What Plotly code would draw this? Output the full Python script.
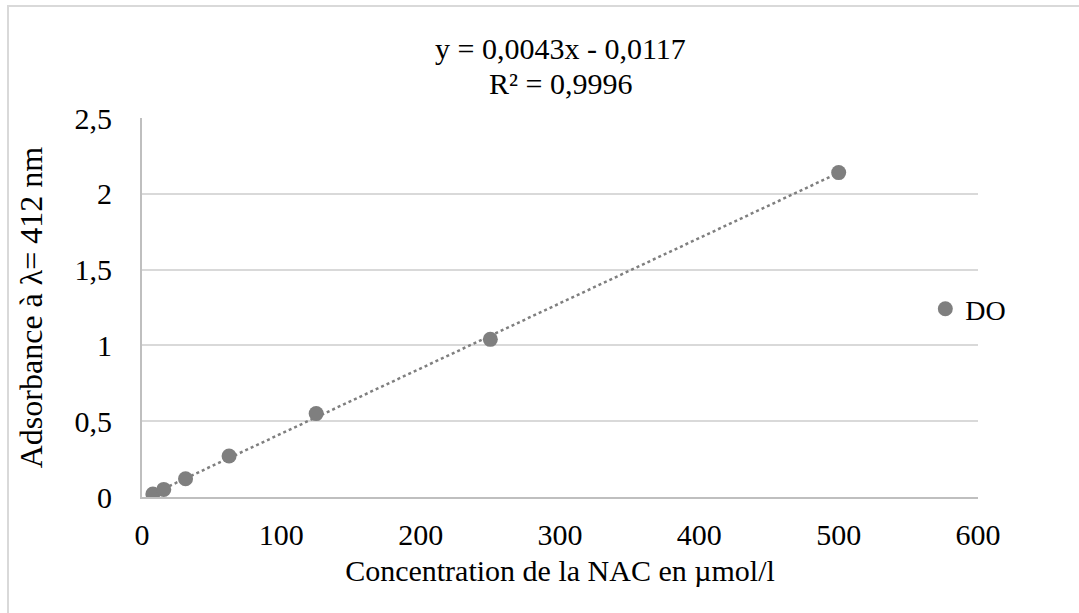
import plotly.graph_objects as go

# NAC calibration: concentration (µmol/l) vs absorbance at 412 nm
concentration = [7.8125, 15.625, 31.25, 62.5, 125, 250, 500]
absorbance = [0.02, 0.05, 0.12, 0.27, 0.55, 1.04, 2.14]

# Linear trendline parameters
slope = 0.0043
intercept = -0.0117
r_squared = "0,9996"

x_ticks = [0, 100, 200, 300, 400, 500, 600]
y_ticks = [0, 0.5, 1, 1.5, 2, 2.5]
y_tick_text = ["0", "0,5", "1", "1,5", "2", "2,5"]

trend_x = [concentration[0], concentration[-1]]
trend_y = [slope * v + intercept for v in trend_x]

GRAY = "#7f7f7f"
FONT = "Liberation Serif, Times New Roman, serif"

fig = go.Figure()
fig.add_trace(go.Scatter(
    x=trend_x, y=trend_y, mode="lines",
    line=dict(color=GRAY, width=2.5, dash="dot"),
    showlegend=False, hoverinfo="skip",
))
fig.add_trace(go.Scatter(
    x=concentration, y=absorbance, mode="markers", name="DO",
    marker=dict(color=GRAY, size=15),
))

fig.update_layout(
    width=1079, height=613,
    margin=dict(l=142, r=101, t=118, b=116),
    paper_bgcolor="white", plot_bgcolor="white",
    font=dict(family=FONT, size=26, color="black"),
    legend=dict(x=0.937, y=0.496, xanchor="left", yanchor="middle",
                bgcolor="rgba(0,0,0,0)", font=dict(family=FONT, size=28),
                itemwidth=30),
    xaxis=dict(
        range=[0, 600], tickvals=x_ticks, showgrid=False, zeroline=False,
        showline=True, linecolor="#bfbfbf", linewidth=2, ticks="",
        tickfont=dict(family=FONT, size=30), ticklabelstandoff=10,
        title=dict(text="Concentration de la NAC en µmol/l",
                   font=dict(family=FONT, size=30), standoff=10),
    ),
    yaxis=dict(
        range=[0, 2.5], tickvals=y_ticks, ticktext=y_tick_text,
        showgrid=True, gridcolor="#d9d9d9", gridwidth=2, zeroline=False,
        showline=True, linecolor="#bfbfbf", linewidth=2, ticks="",
        tickfont=dict(family=FONT, size=30), ticklabelstandoff=22,
        title=dict(text="Adsorbance à λ= 412 nm",
                   font=dict(family=FONT, size=32), standoff=22),
    ),
    annotations=[
        dict(x=0.5, y=1.0, xref="paper", yref="paper", xanchor="center",
             yanchor="middle", yshift=70, showarrow=False,
             text="y = 0,0043x - 0,0117", font=dict(family=FONT, size=30)),
        dict(x=0.5, y=1.0, xref="paper", yref="paper", xanchor="center",
             yanchor="middle", yshift=35, showarrow=False,
             text=f"R² = {r_squared}", font=dict(family=FONT, size=30)),
    ],
    shapes=[dict(
        type="rect", xref="paper", yref="paper",
        x0=-0.1603, x1=1.2, y0=-0.4, y1=1.2955,
        line=dict(color="#d9d9d9", width=2), fillcolor="rgba(0,0,0,0)",
        layer="below",
    )],
)

fig.write_html("out.html")
